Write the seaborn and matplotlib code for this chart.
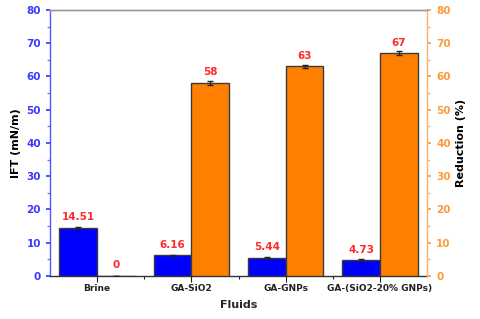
import matplotlib
matplotlib.use("Agg")
import matplotlib.pyplot as plt
import numpy as np
import pandas as pd
import seaborn as sns
from matplotlib.ticker import MultipleLocator

sns.set_theme(style="ticks")
plt.rcParams["font.family"] = ["DejaVu Sans"]
plt.rcParams["font.weight"] = "bold"

fluids = ["Brine", "GA-SiO2", "GA-GNPs", "GA-(SiO2-20% GNPs)"]
ift = [14.51, 6.16, 5.44, 4.73]
ift_err = [0.3, 0.2, 0.2, 0.3]
reduction = [0, 58, 63, 67]
reduction_err = [0, 0.5, 0.4, 0.5]
ift_labels = ["14.51", "6.16", "5.44", "4.73"]
red_labels = ["0", "58", "63", "67"]

BLUE = "#0000ff"
ORANGE = "#ff8000"
EDGE = "#3a3a3a"

df = pd.DataFrame({
    "fluid": fluids * 2,
    "series": ["IFT"] * 4 + ["Reduction"] * 4,
    "ift": ift + [np.nan] * 4,
    "red": [np.nan] * 4 + reduction,
})

fig, ax = plt.subplots(figsize=(4.8, 3.19), dpi=100)
fig.subplots_adjust(left=0.104, right=0.89, bottom=0.135, top=0.969)
ax2 = ax.twinx()

sns.barplot(data=df, x="fluid", y="ift", hue="series", hue_order=["IFT", "Reduction"],
            palette=[BLUE, ORANGE], width=0.8, errorbar=None, legend=False,
            edgecolor=EDGE, linewidth=1, saturation=1, ax=ax)
sns.barplot(data=df, x="fluid", y="red", hue="series", hue_order=["IFT", "Reduction"],
            palette=[BLUE, ORANGE], width=0.8, errorbar=None, legend=False,
            edgecolor=EDGE, linewidth=1, saturation=1, ax=ax2)

x = np.arange(len(fluids))
ax.errorbar(x - 0.2, ift, yerr=ift_err, fmt="none", ecolor="#222222", capsize=2, lw=0.8)
ax2.errorbar(x + 0.2, reduction, yerr=reduction_err, fmt="none", ecolor="#222222", capsize=2, lw=0.8)

for xi, v, lab in zip(x, ift, ift_labels):
    ax.annotate(lab, (xi - 0.2, v), xytext=(0, 4), textcoords="offset points",
                ha="center", va="bottom", color="#ff2a2a", fontsize=7.5, fontweight="bold")
for xi, v, lab in zip(x, reduction, red_labels):
    ax2.annotate(lab, (xi + 0.2, v), xytext=(0, 4), textcoords="offset points",
                 ha="center", va="bottom", color="#ff2a2a", fontsize=7.5, fontweight="bold")

for a in (ax, ax2):
    a.set_ylim(0, 80)
    a.set_xlim(-0.5, 3.5)
    a.yaxis.set_major_locator(MultipleLocator(10))
    a.yaxis.set_minor_locator(MultipleLocator(5))

ax.set_xticks(x)
ax.set_xticklabels(fluids, fontsize=6.5, fontweight="bold")
ax.set_xticks(x[:-1] + 0.5, minor=True)
ax.tick_params(axis="x", which="major", length=4, width=0.8, colors="#222222", pad=2)
ax.tick_params(axis="x", which="minor", length=2, width=0.8, color="#222222")

ax.tick_params(axis="y", which="major", length=3, colors="#3a3aff", labelsize=7.5)
ax.tick_params(axis="y", which="minor", length=2, color="#7777ff")
ax2.tick_params(axis="y", which="major", length=3, colors="#ff9a3a", labelsize=7.5)
ax2.tick_params(axis="y", which="minor", length=2, color="#ffb070")
for lab in ax.get_yticklabels() + ax2.get_yticklabels():
    lab.set_fontweight("bold")

ax.set_xlabel("Fluids", fontsize=8, fontweight="bold", labelpad=5)
ax.set_ylabel("IFT (mN/m)", fontsize=8, fontweight="bold", color="black")
ax2.set_ylabel("Reduction (%)", fontsize=8, fontweight="bold", color="black")

ax.spines["left"].set_color("#5555ff")
ax.spines["bottom"].set_color("#333333")
ax.spines["top"].set_color("#999999")
ax2.spines["right"].set_color("#ffb070")
ax2.spines["left"].set_visible(False)
ax2.spines["top"].set_color("#999999")
ax2.spines["bottom"].set_visible(False)
for s in ("left", "right", "top", "bottom"):
    ax.spines[s].set_linewidth(1)
    ax2.spines[s].set_linewidth(1)
ax.spines["right"].set_visible(False)

fig.savefig("out.png", dpi=100)
